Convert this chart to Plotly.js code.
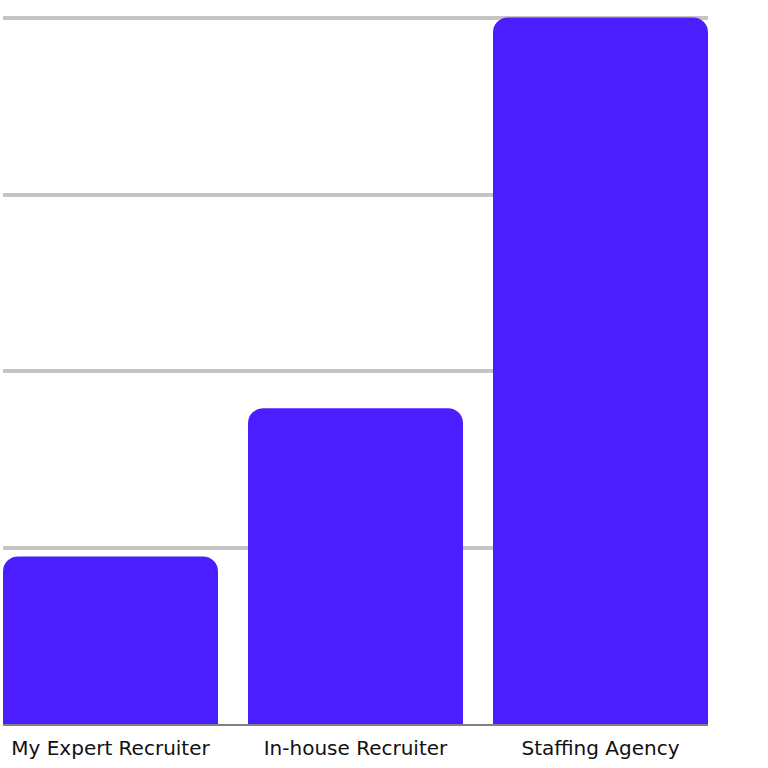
<!DOCTYPE html>
<html>
<head>
<meta charset="utf-8">
<script src="https://cdn.plot.ly/plotly-3.0.1.min.js"></script>
<style>
  html, body { margin: 0; padding: 0; background: #fff; }
  #chart { width: 768px; height: 768px; }
</style>
</head>
<body>
<div id="chart"></div>
<script>
var categories = ['My Expert Recruiter', 'In-house Recruiter', 'Staffing Agency'];
var values = [0.95, 1.79, 4.005];

var barWidth = 0.8776;

var trace = {
  type: 'bar',
  x: categories,
  y: values,
  width: barWidth,
  marker: { color: '#4b1eff', cornerradius: 15 },
  hoverinfo: 'x+y'
};

var layout = {
  width: 768,
  height: 768,
  margin: { l: 3, r: 60, t: 13, b: 44 },
  paper_bgcolor: '#ffffff',
  plot_bgcolor: '#ffffff',
  showlegend: false,
  font: { family: 'DejaVu Sans, sans-serif', size: 20, color: '#111111' },
  xaxis: {
    type: 'category',
    range: [-barWidth / 2, 2 + barWidth / 2],
    showgrid: false,
    showline: true,
    linecolor: '#808080',
    linewidth: 2,
    ticks: '',
    ticklabelstandoff: 5,
    tickfont: { family: 'DejaVu Sans, sans-serif', size: 20, color: '#111111' },
    fixedrange: true
  },
  yaxis: {
    range: [0, 4.03],
    dtick: 1,
    showgrid: true,
    gridcolor: '#c4c4c4',
    gridwidth: 4,
    zeroline: false,
    showticklabels: false,
    ticks: '',
    fixedrange: true
  }
};

Plotly.newPlot('chart', [trace], layout, { displayModeBar: false, staticPlot: true });
</script>
</body>
</html>
